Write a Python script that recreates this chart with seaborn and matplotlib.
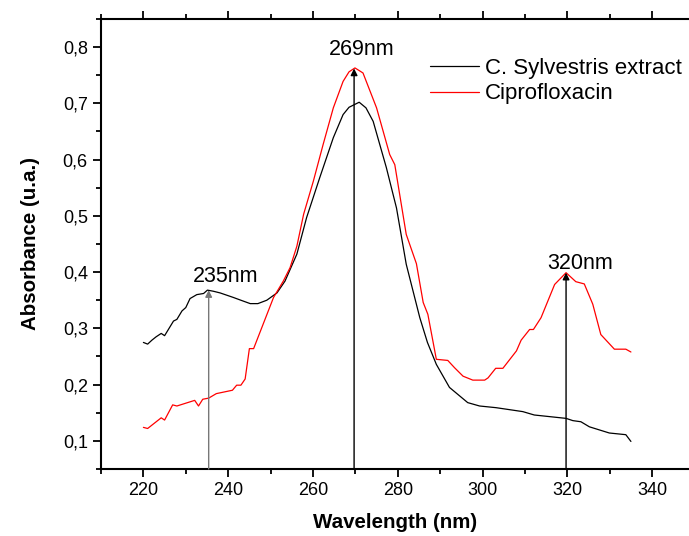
import matplotlib
matplotlib.use("Agg")
import matplotlib.pyplot as plt
import matplotlib.ticker as mticker
import pandas as pd
import seaborn as sns

# data
extract_nm = [220, 221, 222, 223, 224.2, 225, 227.1, 227.9, 229.1, 230, 231, 232.6, 234.2, 235.1,
              236.5, 238.1, 241.2, 243, 245.2, 247, 249.1, 251.5, 253.4, 256.2, 258.5, 261.6,
              264.8, 267.1, 268.5, 270.9, 272.5, 274.2, 277.3, 279.7, 282, 285.2, 287, 289.1,
              292.2, 296.5, 299.3, 303.2, 309.5, 312.2, 319.7, 321.3, 323.2, 325.2, 329.9, 333.8, 335]
extract_abs = [0.275, 0.272, 0.279, 0.285, 0.291, 0.287, 0.313, 0.316, 0.331, 0.337, 0.353, 0.360,
               0.362, 0.368, 0.366, 0.363, 0.355, 0.350, 0.344, 0.344, 0.350, 0.363, 0.384, 0.432,
               0.497, 0.568, 0.639, 0.680, 0.693, 0.702, 0.692, 0.668, 0.586, 0.514, 0.414, 0.319,
               0.275, 0.236, 0.195, 0.168, 0.162, 0.159, 0.152, 0.146, 0.140, 0.136, 0.134, 0.125,
               0.114, 0.111, 0.099]

cipro_nm = [220, 221, 224.2, 225, 226.9, 227.9, 232.1, 233, 234, 235.4, 237.2, 241, 242, 243, 244,
            245, 246, 250.7, 253, 254.6, 256.2, 257.8, 260.1, 262.4, 264.8, 267.1, 268.5, 269.9,
            271.8, 275, 278.1, 279.3, 282, 284.4, 286, 287.1, 289.1, 291.8, 293.4, 295.4, 297.7,
            300.5, 301.3, 303.1, 304.8, 308, 309.1, 311.1, 312, 313.8, 317, 319.7, 322, 324, 326,
            327.9, 331.1, 333.8, 335]
cipro_abs = [0.124, 0.122, 0.141, 0.137, 0.164, 0.162, 0.172, 0.162, 0.174, 0.176, 0.184, 0.190,
             0.199, 0.199, 0.21, 0.264, 0.264, 0.355, 0.384, 0.408, 0.446, 0.503, 0.562, 0.627,
             0.692, 0.739, 0.756, 0.763, 0.754, 0.692, 0.609, 0.591, 0.467, 0.415, 0.346, 0.325,
             0.245, 0.243, 0.230, 0.215, 0.208, 0.208, 0.212, 0.229, 0.229, 0.260, 0.279, 0.298,
             0.298, 0.319, 0.378, 0.399, 0.383, 0.379, 0.343, 0.289, 0.263, 0.263, 0.258]

peak_labels = ["235nm", "269nm", "320nm"]
peak_nm = [235.4, 269.7, 319.7]
peak_abs = [0.368, 0.762, 0.399]
peak_text_xy = [(239.4, 0.393), (271.4, 0.796), (323.0, 0.416)]
peak_colors = ["#777777", "black", "black"]

df = pd.concat([
    pd.DataFrame({"nm": extract_nm, "abs": extract_abs, "sample": "C. Sylvestris extract"}),
    pd.DataFrame({"nm": cipro_nm, "abs": cipro_abs, "sample": "Ciprofloxacin"}),
])

sns.set_style("ticks")
plt.rcParams["font.family"] = ["Liberation Sans", "DejaVu Sans"]
plt.rcParams.update({"text.color": "black", "axes.labelcolor": "black",
                     "xtick.color": "black", "ytick.color": "black",
                     "axes.edgecolor": "black"})

fig = plt.figure(figsize=(6.89, 5.36), dpi=100)
ax = fig.add_axes([0.1466, 0.125, 0.8534, 0.8396])

sns.lineplot(data=df, x="nm", y="abs", hue="sample", sort=False, estimator=None,
             palette={"C. Sylvestris extract": "black", "Ciprofloxacin": "red"},
             linewidth=0.9, ax=ax)

for lab, x, y, (tx, ty), c in zip(peak_labels, peak_nm, peak_abs, peak_text_xy, peak_colors):
    ax.annotate("", xy=(x, y), xytext=(x, 0.05),
                arrowprops=dict(arrowstyle="-|>", color=c, lw=1, mutation_scale=10,
                                shrinkA=0, shrinkB=0))
    ax.text(tx, ty, lab, ha="center", va="center", fontsize=15.5)

ax.set_xlim(210, 348.7)
ax.set_ylim(0.05, 0.85)
ax.xaxis.set_major_locator(mticker.MultipleLocator(20))
ax.xaxis.set_minor_locator(mticker.MultipleLocator(10))
ax.yaxis.set_major_locator(mticker.MultipleLocator(0.1))
ax.yaxis.set_minor_locator(mticker.MultipleLocator(0.05))
ax.yaxis.set_major_formatter(mticker.FuncFormatter(lambda v, p: f"{v:.1f}".replace(".", ",")))

ax.tick_params(which="both", direction="out", top=True, width=1.3, labelsize=13)
ax.tick_params(which="major", length=6)
ax.tick_params(which="minor", length=3.5)
for s in ["left", "bottom", "top"]:
    ax.spines[s].set_linewidth(1.5)
ax.spines["right"].set_visible(False)

ax.set_xlabel("Wavelength (nm)", fontsize=14.8, fontweight="bold", labelpad=10)
ax.set_ylabel("Absorbance (u.a.)", fontsize=14.8, fontweight="bold", labelpad=16)

leg = ax.legend(loc="upper left", bbox_to_anchor=(0.525, 0.958), frameon=False,
                fontsize=16, handlelength=2.2, handletextpad=0.3, labelspacing=0.2)
for h in leg.get_lines():
    h.set_linewidth(0.9)

fig.savefig("out.png", dpi=100)
